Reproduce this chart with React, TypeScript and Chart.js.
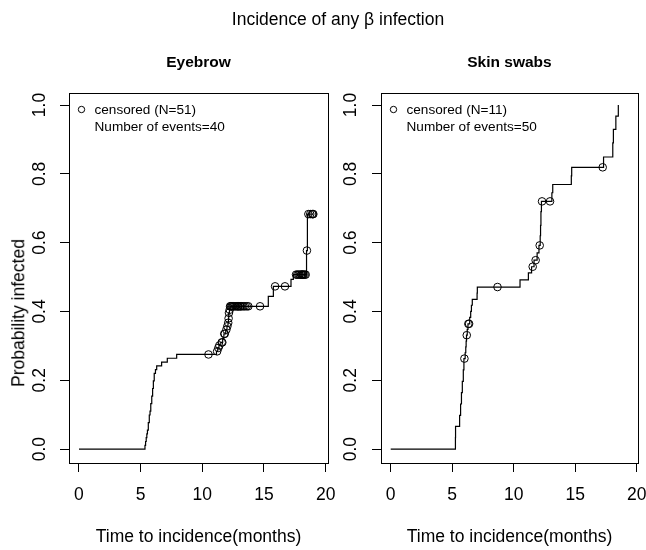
import React, { useEffect, useRef } from "react";
import { Chart, registerables } from "chart.js";

Chart.register(...registerables);

// ---------- text ----------
const mainTitle = "Incidence of any β infection";
const xAxisTitle = "Time to incidence(months)";
const yAxisTitle = "Probability infected";

// ---------- ticks ----------
const xTickValues = [0, 5, 10, 15, 20];
const yTickValues = [0, 0.2, 0.4, 0.6, 0.8, 1.0];

// ---------- Eyebrow panel ----------
const eyebrowTitle = "Eyebrow";
const eyebrowEventTimes = [
  5.35, 5.4, 5.45, 5.5, 5.55, 5.62, 5.7, 5.76, 5.82, 5.9, 5.97, 6.03, 6.1, 6.2, 6.3, 6.7, 7.16, 7.92,
  11.15, 11.25, 11.35, 11.5, 11.65, 11.75, 11.9, 12.0, 12.08, 12.12, 12.14, 12.2, 12.25,
  15.35, 15.76, 17.19, 17.38, 18.45, 18.52,
];
const eyebrowEventProbs = [
  0.011, 0.022, 0.033, 0.044, 0.055, 0.077, 0.099, 0.11, 0.132, 0.154, 0.176, 0.198, 0.22, 0.231, 0.242, 0.253, 0.264, 0.275,
  0.284, 0.294, 0.301, 0.31, 0.322, 0.335, 0.347, 0.357, 0.367, 0.38, 0.396, 0.405, 0.415,
  0.444, 0.473, 0.493, 0.507, 0.577, 0.683,
];
const eyebrowCensorTimes = [
  10.5, 11.2, 11.3, 11.38, 11.57, 11.62, 11.78, 11.82, 11.95, 12.03, 12.1, 12.13, 12.16, 12.22, 12.25,
  12.3, 12.38, 12.46, 12.55, 12.65, 12.74, 12.84, 12.9, 12.95, 13.06, 13.1, 13.2, 13.33, 13.45, 13.6, 13.73,
  14.68, 15.9, 16.7, 17.6, 17.7, 17.8, 17.9, 18.0, 18.05, 18.1, 18.15, 18.2, 18.3, 18.38, 18.48,
  18.6, 18.75, 18.9, 18.95, 19.0,
];
const eyebrowLegend = ["censored (N=51)", "Number of events=40"];

// ---------- Skin swabs panel ----------
const skinTitle = "Skin swabs";
const skinEventTimes = [
  5.26, 5.27, 5.6, 5.68, 5.75, 5.82, 5.9, 5.95, 6.05, 6.1, 6.13, 6.16, 6.22, 6.28, 6.42, 6.5, 6.56, 6.63,
  7.02, 7.04, 10.51, 11.19, 11.45, 11.65, 11.9, 12.05, 12.15, 12.18, 12.21, 12.25, 13.1, 13.17,
  14.68, 14.71, 17.3, 18.05, 18.1, 18.3, 18.5,
];
const skinEventProbs = [
  0.033, 0.066, 0.098, 0.131, 0.164, 0.197, 0.23, 0.263, 0.28, 0.297, 0.314, 0.331, 0.348, 0.364, 0.383, 0.4, 0.418, 0.435,
  0.453, 0.471, 0.492, 0.512, 0.53, 0.549, 0.57, 0.592, 0.62, 0.65, 0.69, 0.72, 0.745, 0.769,
  0.794, 0.819, 0.849, 0.89, 0.929, 0.968, 1.0,
];
const skinCensorTimes = [5.99, 6.18, 6.31, 6.37, 8.68, 11.54, 11.78, 12.11, 12.3, 12.95, 17.23];
const skinLegend = ["censored (N=11)", "Number of events=50"];

const FONT = "'Liberation Sans', Arial, Helvetica, sans-serif";

function curveValue(times: number[], probs: number[], t: number) {
  let v = 0;
  for (let i = 0; i < times.length; i++) if (times[i] <= t) v = probs[i];
  return v;
}

type Panel = {
  times: number[];
  probs: number[];
  censor: number[];
  legend: string[];
  xMin: number;
  xMax: number;
  yAxisWidth: number;
  rightPad: number;
  tickPadY: number;
};

function buildChart(canvas: HTMLCanvasElement, p: Panel) {
  const endTime = Math.max(p.times[p.times.length - 1], ...p.censor);
  const curve = [{ x: 0, y: 0 }]
    .concat(p.times.map((t, i) => ({ x: t, y: p.probs[i] })))
    .concat([{ x: endTime, y: p.probs[p.probs.length - 1] }]);
  const marks = p.censor.map((t) => ({ x: t, y: curveValue(p.times, p.probs, t) }));

  const boxPlugin = {
    id: "rbox",
    afterDraw(chart: any) {
      const { ctx, chartArea: a } = chart;
      ctx.save();
      ctx.strokeStyle = "#000";
      ctx.lineWidth = 1;
      ctx.strokeRect(Math.round(a.left) + 0.5, Math.round(a.top) + 0.5, Math.round(a.right - a.left), Math.round(a.bottom - a.top));
      // legend
      ctx.beginPath();
      ctx.arc(a.left + 12.5, a.top + 16.5, 3.2, 0, Math.PI * 2);
      ctx.stroke();
      ctx.fillStyle = "#000";
      ctx.font = `13.6px ${FONT}`;
      ctx.textAlign = "left";
      ctx.textBaseline = "middle";
      ctx.fillText(p.legend[0], a.left + 25.5, a.top + 17);
      ctx.fillText(p.legend[1], a.left + 25.5, a.top + 34);
      ctx.restore();
    },
  };

  const tickFont = { family: FONT, size: 17.5 };

  return new Chart(canvas, {
    type: "scatter",
    data: {
      datasets: [
        {
          type: "line",
          data: curve,
          stepped: "before",
          borderColor: "#000",
          borderWidth: 1.2,
          pointRadius: 0,
          fill: false,
          showLine: true,
        } as any,
        {
          type: "scatter",
          data: marks,
          pointStyle: "circle",
          pointRadius: 3.8,
          borderColor: "#000",
          borderWidth: 1,
          backgroundColor: "rgba(0,0,0,0)",
          showLine: false,
        } as any,
      ],
    },
    options: {
      responsive: false,
      animation: false,
      events: [],
      layout: { padding: { left: 0, right: p.rightPad, top: 93, bottom: 0 } },
      plugins: { legend: { display: false }, tooltip: { enabled: false }, title: { display: false } },
      scales: {
        x: {
          type: "linear",
          min: p.xMin,
          max: p.xMax,
          afterBuildTicks: (s: any) => {
            s.ticks = xTickValues.map((v) => ({ value: v }));
          },
          afterFit: (s: any) => {
            s.height = 87;
            s.paddingLeft = 0;
            s.paddingRight = 0;
          },
          grid: { drawOnChartArea: false, drawTicks: true, tickLength: 9, color: "#000", lineWidth: 1 },
          border: { display: false },
          ticks: {
            autoSkip: false,
            minRotation: 0,
            maxRotation: 0,
            padding: 12.5,
            color: "#000",
            font: tickFont,
            callback: (v: any) => String(v),
          },
          title: { display: true, text: xAxisTitle, color: "#000", font: tickFont, padding: { top: 0, bottom: 2.5 } },
        },
        y: {
          type: "linear",
          min: -0.0405,
          max: 1.035,
          afterBuildTicks: (s: any) => {
            s.ticks = yTickValues.map((v) => ({ value: v }));
          },
          afterFit: (s: any) => {
            s.width = p.yAxisWidth;
            s.paddingTop = 0;
            s.paddingBottom = 0;
          },
          grid: { drawOnChartArea: false, drawTicks: true, tickLength: 9, color: "#000", lineWidth: 1 },
          border: { display: false },
          ticks: {
            autoSkip: false,
            minRotation: 90,
            maxRotation: 90,
            crossAlign: "center",
            padding: p.tickPadY,
            color: "#000",
            font: tickFont,
            callback: (v: any) => Number(v).toFixed(1),
          },
        },
      },
    } as any,
    plugins: [boxPlugin],
  });
}

export default function App() {
  const leftRef = useRef<HTMLCanvasElement>(null);
  const rightRef = useRef<HTMLCanvasElement>(null);

  useEffect(() => {
    const c1 = buildChart(leftRef.current!, {
      times: eyebrowEventTimes,
      probs: eyebrowEventProbs,
      censor: eyebrowCensorTimes,
      legend: eyebrowLegend,
      xMin: -0.81,
      xMax: 20.19,
      yAxisWidth: 69,
      rightPad: 7,
      tickPadY: 8,
    });
    const c2 = buildChart(rightRef.current!, {
      times: skinEventTimes,
      probs: skinEventProbs,
      censor: skinCensorTimes,
      legend: skinLegend,
      xMin: -0.79,
      xMax: 20.1,
      yAxisWidth: 46,
      rightPad: 8,
      tickPadY: 9,
    });
    return () => {
      c1.destroy();
      c2.destroy();
    };
  }, []);

  const textBase: React.CSSProperties = {
    position: "absolute",
    transform: "translate(-50%, -50%)",
    whiteSpace: "nowrap",
    lineHeight: 1,
    color: "#000",
    fontFamily: FONT,
  };

  return (
    <div style={{ position: "absolute", left: 0, top: 0, width: 646, height: 550, background: "#fff", overflow: "hidden" }}>
      <canvas ref={leftRef} width={335} height={550} style={{ position: "absolute", left: 0, top: 0 }} />
      <canvas ref={rightRef} width={311} height={550} style={{ position: "absolute", left: 335, top: 0 }} />
      <div style={{ ...textBase, left: 338, top: 20, fontSize: 17.5 }}>{mainTitle}</div>
      <div style={{ ...textBase, left: 198.5, top: 62, fontSize: 15.5, fontWeight: "bold" }}>{eyebrowTitle}</div>
      <div style={{ ...textBase, left: 509.5, top: 62, fontSize: 15.5, fontWeight: "bold" }}>{skinTitle}</div>
      <div style={{ ...textBase, left: 19, top: 313, fontSize: 17.5, transform: "translate(-50%, -50%) rotate(-90deg)" }}>
        {yAxisTitle}
      </div>
    </div>
  );
}
